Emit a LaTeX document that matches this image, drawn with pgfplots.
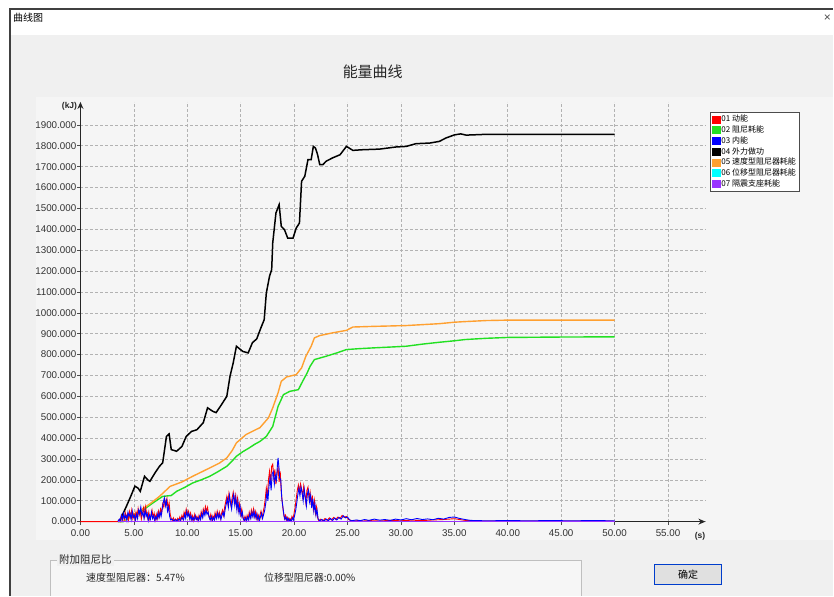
\documentclass[border=0pt]{standalone}
\usepackage{fontspec}
\setmainfont{Liberation Sans}
\newfontfamily\cjk{Noto Sans CJK SC}
\usepackage{pgfplots}
\pgfplotsset{compat=1.18}
\usetikzlibrary{arrows.meta}
\definecolor{winbg}{HTML}{F0F0F0}
\definecolor{panelbg}{HTML}{F5F5F5}
\definecolor{c01}{HTML}{FF0000}
\definecolor{c02}{HTML}{22E022}
\definecolor{c03}{HTML}{0000FF}
\definecolor{c04}{HTML}{000000}
\definecolor{c05}{HTML}{FFA030}
\definecolor{c06}{HTML}{00FFFF}
\definecolor{c07}{HTML}{9933FF}
\definecolor{ticktxt}{HTML}{333333}
\begin{document}
\begin{tikzpicture}
\fill[white] (0pt,0pt) rectangle (834pt,596pt);
% window body
\fill[winbg] (10pt,0pt) rectangle (834pt,561pt);
\fill[white] (10pt,561pt) rectangle (834pt,587pt);
\draw[black!75, line width=1.2pt] (10pt,0pt) -- (10pt,587pt) -- (834pt,587pt);
\node[anchor=west, inner sep=0pt, font=\cjk\fontsize{10}{11}\selectfont] at (13pt,578pt) {曲线图};
\node[anchor=center, inner sep=0pt, font=\fontsize{12}{13}\selectfont, text=black!70] at (828pt,578pt) {×};
\node[anchor=center, inner sep=0pt, font=\cjk\fontsize{15}{17}\selectfont, text=black!85] at (373pt,524pt) {能量曲线};
% chart panel
\fill[panelbg] (36pt,56pt) rectangle (834pt,499pt);
% bottom group box
\fill[winbg!60!white] (50pt,0pt) rectangle (582pt,35pt);
\draw[black!25, line width=0.8pt] (50pt,0pt) -- (50pt,35pt) -- (582pt,35pt) -- (582pt,0pt);
\node[anchor=west, fill=winbg, inner sep=2pt, font=\cjk\fontsize{10.5}{12}\selectfont, text=black!85] at (57pt,36pt) {附加阻尼比};
\node[anchor=west, inner sep=0pt, font=\cjk\fontsize{10}{12}\selectfont, text=black!85] at (86pt,18pt) {速度型阻尼器：5.47\%};
\node[anchor=west, inner sep=0pt, font=\cjk\fontsize{10}{12}\selectfont, text=black!85] at (264pt,18pt) {位移型阻尼器:0.00\%};
\fill[black!12] (655pt,11pt) rectangle (722pt,31pt);
\draw[blue!70!cyan!80!black, line width=1.3pt] (655pt,11pt) rectangle (722pt,31pt);
\node[anchor=center, inner sep=0pt, font=\cjk\fontsize{10}{12}\selectfont] at (688.5pt,21pt) {确定};
\begin{axis}[
  at={(80.5pt,74pt)}, anchor=south west,
  scale only axis, width=625.4pt, height=420pt,
  xmin=0, xmax=58.5, ymin=0, ymax=2010,
  axis lines=left,
  axis line style={line width=1.2pt, black!85, -{Stealth[length=7pt,width=6pt]}},
  xtick={0,5,...,55}, ytick={0,100,...,1900},
  grid=major,
  grid style={dash pattern=on 2.5pt off 2.5pt, black!30, line width=0.6pt},
  tick align=outside, major tick length=3pt,
  tick style={black!70, line width=0.6pt},
  /pgf/number format/assume math mode=true,
  xticklabel style={font=\fontsize{9.8}{10}\selectfont, text=ticktxt, inner sep=1pt, yshift=-4pt, /pgf/number format/.cd, fixed, fixed zerofill, precision=2, 1000 sep={}},
  yticklabel style={font=\fontsize{9.8}{10}\selectfont, text=ticktxt, inner sep=1pt, /pgf/number format/.cd, fixed, fixed zerofill, precision=3, 1000 sep={}},
  scaled ticks=false,
  clip=false,
  legend style={at={(1.007,0.976)}, anchor=north west, draw=black!70, fill=white,
    font=\cjk\fontsize{8}{9}\selectfont, inner sep=2pt, row sep=0.5pt,
    nodes={inner sep=1pt}},
  legend cell align=left,
  legend image code/.code={\fill[#1] (0pt,-3.5pt) rectangle (8pt,3.5pt);},
]
\addlegendimage{color=c01}\addlegendentry{01 动能}
\addlegendimage{color=c02}\addlegendentry{02 阻尼耗能}
\addlegendimage{color=c03}\addlegendentry{03 内能}
\addlegendimage{color=c04}\addlegendentry{04 外力做功}
\addlegendimage{color=c05}\addlegendentry{05 速度型阻尼器耗能}
\addlegendimage{color=c06}\addlegendentry{06 位移型阻尼器耗能}
\addlegendimage{color=c07}\addlegendentry{07 隔震支座耗能}

% 02 damping (green)
\addplot[forget plot, color=c02, line width=1.4pt] coordinates {
(3.6,0) (4.0,0) (4.5,20) (5.2,40) (5.9,57) (6.8,90) (7.7,121) (8.5,125) (9.0,145) (9.8,165) (10.5,185) (11.3,200) (12.1,217) (12.9,240) (13.7,265) (14.2,290) (14.6,313) (15.2,335) (15.8,353) (16.3,370) (16.8,384) (17.4,408) (18.0,456) (18.5,552) (19.0,608) (19.6,624) (20.4,632) (20.8,672) (21.2,710) (21.5,744) (21.9,776) (23.0,792) (24.0,808) (24.9,824) (26.0,828) (27.4,832) (29.0,836) (30.5,840) (32.0,850) (33.6,859) (35.0,866) (36.0,872) (38.0,878) (40.0,882) (45.0,884) (50,885)
};
% 05 velocity damper (orange)
\addplot[forget plot, color=c05, line width=1.4pt] coordinates {
(3.6,0) (3.8,0) (4.5,15) (5.5,50) (6.5,85) (7.4,121) (8.4,169) (9.5,190) (10.5,217) (11.3,237) (12.1,257) (13.0,280) (13.7,305) (14.2,340) (14.6,377) (15.0,395) (15.5,417) (16.2,435) (16.8,450) (17.6,497) (18.0,545) (18.5,617) (18.8,672) (19.3,693) (20.2,704) (20.7,736) (21.1,792) (21.6,840) (21.9,880) (22.4,891) (23.6,904) (24.9,916) (25.5,932) (27.4,935) (30.5,939) (33.6,948) (35.0,955) (36.0,958) (38.0,963) (40.0,965) (50,965)
};
% 04 external work (black)
\addplot[forget plot, color=c04, line width=1.5pt] coordinates {
(3.5,0) (3.7,5) (4.0,40) (4.3,73) (4.7,120) (5.1,170) (5.4,160) (5.6,145) (6.0,217) (6.3,200) (6.5,193) (7.0,235) (7.4,265) (7.7,282) (8.05,408) (8.3,420) (8.5,345) (9.0,337) (9.5,360) (9.9,408) (10.4,432) (10.9,440) (11.5,474) (11.9,545) (12.4,528) (12.7,522) (13.2,560) (13.7,600) (14.0,696) (14.3,760) (14.6,840) (15.2,815) (15.7,808) (16.1,857) (16.5,875) (16.9,929) (17.2,967) (17.4,1095) (17.7,1175) (17.9,1207) (18.0,1335) (18.3,1478) (18.6,1518) (18.8,1414) (19.1,1398) (19.4,1358) (19.9,1358) (20.2,1406) (20.5,1430) (20.7,1630) (21.0,1654) (21.3,1734) (21.6,1734) (21.8,1797) (22.0,1789) (22.2,1757) (22.4,1710) (22.7,1710) (23.0,1726) (23.6,1742) (24.3,1757) (24.9,1797) (25.5,1778) (26.4,1781) (28.0,1784) (29.5,1794) (30.5,1797) (31.4,1810) (32.7,1813) (33.6,1821) (34.2,1837) (35.0,1852) (35.6,1857) (36.1,1851) (37.6,1854) (50,1854)
};
% 06 displacement damper (cyan, zero)
\addplot[forget plot, color=c06, line width=1pt] coordinates {(3.5,0) (50,0)};
% 01 kinetic (red)
\addplot[forget plot, color=c01, line width=0.9pt] coordinates {
(0,0) (3.5,0) (3.6,8) (3.7,2) (3.8,25) (3.9,6) (4.0,30) (4.1,12) (4.2,42) (4.3,18) (4.4,35) (4.5,8) (4.6,48) (4.7,22) (4.8,55) (4.9,15) (5.0,38) (5.1,10) (5.2,45) (5.3,20) (5.4,62) (5.5,30) (5.6,50) (5.7,12) (5.8,40) (5.9,65) (6.0,25) (6.1,70) (6.2,35) (6.3,15) (6.4,45) (6.5,10) (6.6,30) (6.7,55) (6.8,20) (6.9,40) (7.0,8) (7.1,35) (7.2,15) (7.3,50) (7.4,25) (7.5,60) (7.6,40) (7.7,85) (7.8,70) (7.9,105) (8.0,80) (8.1,110) (8.2,60) (8.3,90) (8.4,35) (8.5,15) (8.6,5) (8.7,18) (8.8,4) (8.9,12) (9.0,3) (9.1,15) (9.2,6) (9.3,22) (9.4,8) (9.5,30) (9.6,12) (9.7,45) (9.8,28) (9.9,60) (10.0,35) (10.1,50) (10.2,18) (10.3,40) (10.4,10) (10.5,28) (10.6,6) (10.7,35) (10.8,15) (10.9,25) (11.0,5) (11.1,30) (11.2,12) (11.3,48) (11.4,25) (11.5,60) (11.6,40) (11.7,72) (11.8,50) (11.9,68) (12.0,30) (12.1,15) (12.2,35) (12.3,8) (12.4,28) (12.5,12) (12.6,42) (12.7,20) (12.8,50) (12.9,25) (13.0,45) (13.1,15) (13.2,38) (13.3,55) (13.4,30) (13.5,70) (13.6,95) (13.7,120) (13.8,85) (13.9,135) (14.0,100) (14.1,75) (14.2,115) (14.3,140) (14.4,90) (14.5,125) (14.6,70) (14.7,110) (14.8,55) (14.9,85) (15.0,35) (15.1,60) (15.2,20) (15.3,8) (15.4,25) (15.5,5) (15.6,30) (15.7,12) (15.8,45) (15.9,20) (16.0,55) (16.1,30) (16.2,60) (16.3,25) (16.4,48) (16.5,15) (16.6,35) (16.7,8) (16.8,30) (16.9,50) (17.0,20) (17.1,45) (17.2,70) (17.3,110) (17.4,160) (17.5,120) (17.6,200) (17.7,240) (17.8,180) (17.9,265) (18.0,275) (18.1,210) (18.2,250) (18.3,180) (18.4,230) (18.5,260) (18.6,190) (18.7,240) (18.8,140) (18.9,90) (19.0,45) (19.1,15) (19.2,30) (19.3,8) (19.4,20) (19.5,5) (19.6,15) (19.7,4) (19.8,25) (19.9,12) (20.0,40) (20.1,70) (20.2,110) (20.3,150) (20.4,175) (20.5,140) (20.6,180) (20.7,155) (20.8,120) (20.9,170) (21.0,130) (21.1,90) (21.2,150) (21.3,165) (21.4,110) (21.5,140) (21.6,80) (21.7,125) (21.8,60) (21.9,100) (22.0,40) (22.1,70) (22.2,20) (22.3,5) (22.5,12) (22.7,4) (22.9,15) (23.1,6) (23.3,18) (23.5,8) (23.7,20) (23.9,10) (24.1,22) (24.3,15) (24.5,30) (24.7,20) (24.9,25) (25.1,10) (25.3,6) (25.6,3) (26,5) (26.5,3) (27,5) (28,3) (29,6) (30,4) (31,7) (32,5) (33,8) (34,10) (35,14) (36,6) (37,3) (40,3) (45,3) (50,2)
};
% 03 internal (blue)
\addplot[forget plot, color=c03, line width=0.9pt] coordinates {
(3.5,0) (3.65,12) (3.75,3) (3.85,30) (3.95,10) (4.05,40) (4.15,15) (4.25,30) (4.35,5) (4.45,45) (4.55,25) (4.65,38) (4.75,10) (4.85,50) (4.95,20) (5.05,30) (5.15,8) (5.25,35) (5.35,15) (5.45,55) (5.55,40) (5.65,70) (5.75,30) (5.85,45) (5.95,15) (6.05,55) (6.15,25) (6.25,40) (6.35,5) (6.45,30) (6.55,12) (6.65,45) (6.75,15) (6.85,28) (6.95,5) (7.05,25) (7.15,10) (7.25,40) (7.35,18) (7.45,45) (7.55,25) (7.65,60) (7.75,90) (7.85,113) (7.95,75) (8.05,100) (8.15,50) (8.25,70) (8.35,25) (8.45,8) (8.6,12) (8.75,3) (8.9,10) (9.05,2) (9.2,12) (9.35,5) (9.5,20) (9.65,8) (9.75,35) (9.85,15) (9.95,48) (10.05,25) (10.15,40) (10.25,10) (10.35,30) (10.45,5) (10.55,20) (10.65,8) (10.75,28) (10.85,10) (10.95,18) (11.05,4) (11.15,25) (11.25,10) (11.35,38) (11.45,18) (11.55,50) (11.65,30) (11.75,55) (11.85,35) (11.95,45) (12.05,20) (12.15,8) (12.25,25) (12.35,5) (12.45,20) (12.55,8) (12.65,32) (12.75,15) (12.85,40) (12.95,18) (13.05,35) (13.15,10) (13.25,30) (13.35,45) (13.45,25) (13.55,60) (13.65,85) (13.75,110) (13.85,70) (13.95,125) (14.05,90) (14.15,60) (14.25,105) (14.35,130) (14.45,80) (14.55,115) (14.65,55) (14.75,95) (14.85,40) (14.95,70) (15.05,25) (15.15,45) (15.25,12) (15.35,5) (15.45,18) (15.55,3) (15.65,22) (15.75,8) (15.85,35) (15.95,15) (16.05,45) (16.15,22) (16.25,50) (16.35,18) (16.45,38) (16.55,10) (16.65,28) (16.75,5) (16.85,22) (16.95,40) (17.05,15) (17.15,35) (17.25,55) (17.35,90) (17.45,140) (17.55,100) (17.65,170) (17.75,210) (17.85,150) (17.95,230) (18.05,240) (18.15,180) (18.25,220) (18.35,200) (18.45,280) (18.5,305) (18.6,250) (18.65,210) (18.75,200) (18.85,110) (18.95,70) (19.05,30) (19.15,10) (19.25,22) (19.35,4) (19.45,15) (19.55,3) (19.65,10) (19.75,2) (19.85,18) (19.95,8) (20.05,30) (20.15,55) (20.25,90) (20.35,130) (20.45,160) (20.55,125) (20.65,165) (20.75,140) (20.85,100) (20.95,155) (21.05,115) (21.15,75) (21.25,135) (21.35,150) (21.45,95) (21.55,125) (21.65,65) (21.75,110) (21.85,50) (21.95,85) (22.05,30) (22.15,55) (22.25,12) (22.4,4) (22.6,10) (22.8,3) (23.0,12) (23.2,5) (23.4,15) (23.6,6) (23.8,17) (24.0,8) (24.2,20) (24.4,12) (24.6,28) (24.8,18) (25.0,22) (25.2,8) (25.4,4) (25.8,8) (26.2,5) (26.6,10) (27,6) (27.5,12) (28,7) (28.5,10) (29,6) (29.5,12) (30,8) (30.5,14) (31,9) (31.5,15) (32,10) (32.5,13) (33,9) (33.5,16) (34,12) (34.5,20) (35,22) (35.5,15) (36,10) (36.5,6) (37,5) (38,4) (40,5) (42,4) (44,5) (46,4) (48,5) (50,4)
};
% 07 isolation bearing (purple)
\addplot[forget plot, color=c07, line width=1.8pt] coordinates {(3.5,1) (50,1)};
\node[anchor=east, inner sep=0pt, font=\bfseries\fontsize{8.5}{9}\selectfont, text=black!85] at (axis cs:-0.3,1990) {(kJ)};
\node[anchor=center, inner sep=0pt, font=\bfseries\fontsize{8.5}{9}\selectfont, text=black!85] at (axis cs:58.0,-70) {(s)};
\end{axis}
\end{tikzpicture}
\end{document}
